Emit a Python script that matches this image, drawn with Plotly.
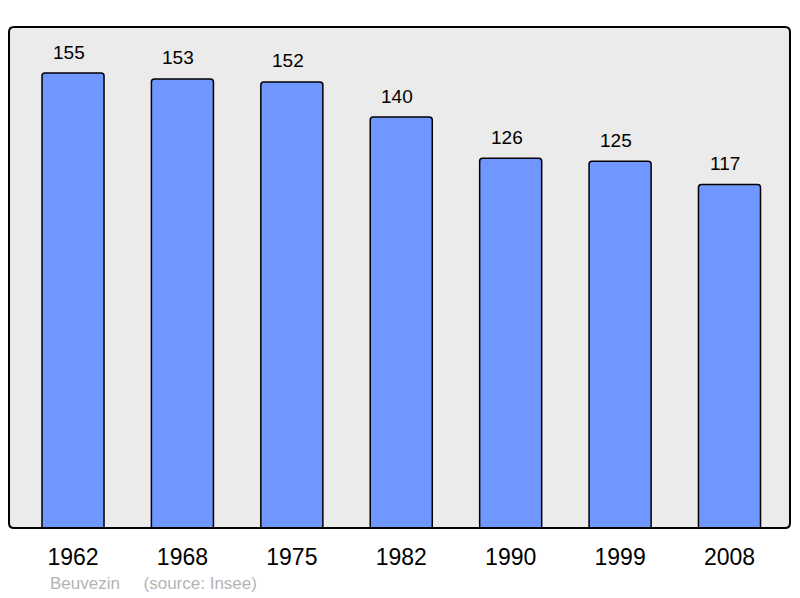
import plotly.graph_objects as go

years = ["1962", "1968", "1975", "1982", "1990", "1999", "2008"]
population = [155, 153, 152, 140, 126, 125, 117]
town = "Beuvezin"
source = "(source: Insee)"

xs = list(range(len(years)))
FONT = "Liberation Sans, Arial, sans-serif"

fig = go.Figure()
fig.add_trace(go.Bar(
    x=xs, y=population, width=0.567,
    marker=dict(color="#7096ff", line=dict(color="black", width=1.5), cornerradius=3),
    hoverinfo="skip",
))

for xi, v in zip(xs, population):
    fig.add_annotation(x=xi, y=v, text=str(v), showarrow=False, yshift=21, xshift=-4,
                       yanchor="middle", font=dict(size=19, color="black", family=FONT))

fig.add_annotation(xref="paper", yref="paper", x=0.05, y=-0.11, xanchor="left",
                   yanchor="middle", showarrow=False,
                   text=town + "&nbsp;&nbsp;&nbsp;&nbsp;&nbsp;" + source,
                   font=dict(size=17, color="#b4b4b4", family=FONT))

# rounded frame around plot area
rx, ry = 5 / 781, 5 / 501
path = (f"M {rx},0 L {1-rx},0 Q 1,0 1,{ry} L 1,{1-ry} Q 1,1 {1-rx},1 "
        f"L {rx},1 Q 0,1 0,{1-ry} L 0,{ry} Q 0,0 {rx},0 Z")
fig.add_shape(type="path", xref="paper", yref="paper", path=path,
              line=dict(color="black", width=2), layer="above")

fig.update_layout(
    width=800, height=598,
    margin=dict(l=9, r=10, t=27, b=70),
    paper_bgcolor="white", plot_bgcolor="#ebebeb",
    showlegend=False,
    xaxis=dict(range=[-0.585, 6.553], tickvals=xs, ticktext=years,
               showgrid=False, zeroline=False, ticks="outside", ticklen=8,
               tickcolor="rgba(0,0,0,0)", tickfont=dict(size=23, color="black", family=FONT)),
    yaxis=dict(range=[0, 170.7], showgrid=False, zeroline=False, showticklabels=False),
)

fig.write_html("out.html", config={"displayModeBar": False},
               post_script="document.body.style.margin='0';document.body.style.overflow='hidden';")
